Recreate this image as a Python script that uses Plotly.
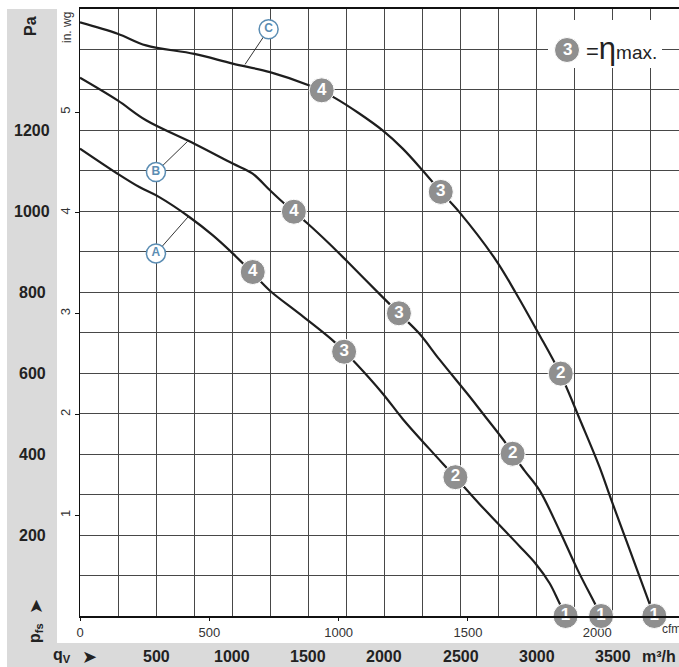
import plotly.graph_objects as go

# ---------------- data (m³/h, Pa) ----------------
Q_A = [0, 247, 390, 521, 718, 871, 1003, 1130, 1244, 1441, 1660, 1737, 1813, 1988, 2120, 2295, 2466, 2624, 2755, 2886, 2996, 3085, 3151, 3195]
P_A = [1155, 1093, 1060, 1035, 986, 941, 896, 849, 805, 747, 681, 653, 624, 550, 487, 413, 343, 277, 225, 173, 128, 81, 31, 0]

Q_B = [0, 247, 434, 751, 1003, 1134, 1248, 1331, 1408, 1495, 1638, 1748, 1988, 2098, 2229, 2361, 2558, 2645, 2799, 2842, 2919, 3018, 3149, 3269, 3390, 3423]
P_B = [1330, 1274, 1225, 1167, 1118, 1093, 1052, 1023, 998, 970, 920, 879, 788, 747, 698, 634, 543, 501, 426, 400, 360, 311, 212, 114, 25, 0]

Q_C = [0, 247, 434, 751, 1003, 1248, 1507, 1590, 1671, 1830, 1988, 2120, 2251, 2376, 2492, 2733, 2865, 3007, 3156, 3290, 3412, 3489, 3609, 3740, 3774]
P_C = [1467, 1439, 1410, 1389, 1365, 1344, 1311, 1297, 1281, 1243, 1200, 1155, 1101, 1046, 998, 879, 797, 702, 598, 480, 369, 288, 166, 32, 0]

# operating points 4,3,2,1 on each curve
op_labels = ["4", "3", "2", "1"]
opA_q = [1135, 1735, 2466, 3190]
opA_p = [850, 653, 343, 0]
opB_q = [1405, 2095, 2842, 3423]
opB_p = [999, 748, 401, 0]
opC_q = [1588, 2370, 3158, 3773]
opC_p = [1299, 1048, 599, 0]

# curve name labels and leader line ends
curve_names = ["A", "B", "C"]
name_q = [499, 499, 1239]
name_p = [896, 1097, 1450]
lead_q = [714, 707, 1084]
lead_p = [988, 1173, 1363]

# tick labels
q_ticks = [500, 1000, 1500, 2000, 2500, 3000, 3500]
pa_ticks = [200, 400, 600, 800, 1000, 1200]
cfm_ticks = [0, 500, 1000, 1500, 2000]
inwg_ticks = [1, 2, 3, 4, 5]

M3H_PER_CFM = 1.699
PA_PER_INWG = 249.089
X_MAX = 3935
Y_MAX = 1500

FONT = "Liberation Sans Narrow, Liberation Sans, Arial Narrow, sans-serif"
BAND = "#dadada"
GRID = "#474747"
CIRC = "#8f8f8f"
BLUE = "#5b8db3"

# layout geometry (pixels)
W, H = 679, 667
ML, MR, MT, MB = 80, 0, 9, 51
PW, PH = W - ML - MR, H - MT - MB


def px_x(px):
    return (px - ML) / PW


def px_y(py):
    return (H - MB - py) / PH


fig = go.Figure()

for Q, P in [(Q_A, P_A), (Q_B, P_B), (Q_C, P_C)]:
    fig.add_trace(go.Scatter(x=Q, y=P, mode="lines",
                             line=dict(color="#1e1e1e", width=2.2, shape="spline", smoothing=1.0),
                             hoverinfo="skip", showlegend=False))

# leader lines
for i in range(3):
    fig.add_trace(go.Scatter(x=[name_q[i], lead_q[i]], y=[name_p[i], lead_p[i]], mode="lines",
                             line=dict(color="#333333", width=1),
                             hoverinfo="skip", showlegend=False))

# curve name circles
fig.add_trace(go.Scatter(x=name_q, y=name_p, mode="markers+text", text=curve_names,
                         textposition="middle center",
                         textfont=dict(family=FONT, size=12, color=BLUE, weight="bold"),
                         marker=dict(size=19, color="white", line=dict(color=BLUE, width=1.5)),
                         hoverinfo="skip", showlegend=False))

# operating point circles
for oq, op in [(opA_q, opA_p), (opB_q, opB_p), (opC_q, opC_p)]:
    fig.add_trace(go.Scatter(x=oq, y=op, mode="markers+text", text=op_labels,
                             textposition="middle center", cliponaxis=False,
                             textfont=dict(family=FONT, size=17, color="white", weight="bold"),
                             marker=dict(size=25, color=CIRC, line=dict(color="white", width=1)),
                             hoverinfo="skip", showlegend=False))

# invisible trace for secondary axes
fig.add_trace(go.Scatter(x=[0], y=[0], xaxis="x2", yaxis="y2", mode="markers",
                         marker=dict(opacity=0), hoverinfo="skip", showlegend=False))

shapes = [
    dict(type="rect", xref="paper", yref="paper", x0=px_x(7), x1=px_x(57), y0=px_y(H), y1=px_y(9),
         fillcolor=BAND, line=dict(width=0), layer="below"),
    dict(type="rect", xref="paper", yref="paper", x0=px_x(7), x1=px_x(W), y0=px_y(H), y1=px_y(643),
         fillcolor=BAND, line=dict(width=0), layer="below"),
    # legend box
    dict(type="rect", xref="paper", yref="paper", x0=px_x(548), x1=px_x(662), y0=px_y(68), y1=px_y(20),
         fillcolor="white", line=dict(width=0), layer="above"),
    dict(type="circle", xref="paper", yref="paper", xsizemode="pixel", ysizemode="pixel",
         xanchor=px_x(567), yanchor=px_y(50), x0=-12.5, x1=12.5, y0=-12.5, y1=12.5,
         fillcolor=CIRC, line=dict(color="white", width=1), layer="above"),
]

ann = []
for v in pa_ticks:
    ann.append(dict(x=px_x(32), xref="paper", y=v, yref="y", text=str(v), showarrow=False,
                    xanchor="center", yanchor="middle",
                    font=dict(family=FONT, size=16, color="#222", weight="bold")))
for v in q_ticks:
    ann.append(dict(x=v, xref="x", y=px_y(656), yref="paper", text=str(v), showarrow=False,
                    xanchor="center", yanchor="middle",
                    font=dict(family=FONT, size=16, color="#222", weight="bold")))
ann += [
    dict(x=px_x(659), xref="paper", y=px_y(656), yref="paper", text="m³/h", showarrow=False,
         xanchor="center", yanchor="middle", font=dict(family=FONT, size=16, color="#222", weight="bold")),
    dict(x=px_x(31), xref="paper", y=px_y(26), yref="paper", text="Pa", showarrow=False, textangle=-90,
         xanchor="center", yanchor="middle", font=dict(family=FONT, size=16, color="#222", weight="bold")),
    dict(x=px_x(35), xref="paper", y=px_y(633), yref="paper", text="p<sub>fs</sub>", showarrow=False,
         textangle=-90, xanchor="center", yanchor="middle",
         font=dict(family=FONT, size=16, color="#222", weight="bold")),
    dict(x=px_x(35), xref="paper", y=px_y(607), yref="paper", text="➤", showarrow=False,
         textangle=-90, xanchor="center", yanchor="middle",
         font=dict(family="DejaVu Sans", size=18, color="#222")),
    dict(x=px_x(62), xref="paper", y=px_y(655), yref="paper", text="q<sub>V</sub>", showarrow=False,
         xanchor="center", yanchor="middle", font=dict(family=FONT, size=16, color="#222", weight="bold")),
    dict(x=px_x(89), xref="paper", y=px_y(656), yref="paper", text="➤", showarrow=False,
         xanchor="center", yanchor="middle", font=dict(family="DejaVu Sans", size=18, color="#222")),
    dict(x=px_x(67), xref="paper", y=px_y(28), yref="paper", text="in. wg", showarrow=False,
         textangle=-90, xanchor="center", yanchor="middle", font=dict(family=FONT, size=12, color="#333")),
    dict(x=px_x(671), xref="paper", y=px_y(629), yref="paper", text="cfm", showarrow=False,
         xanchor="center", yanchor="middle", font=dict(family=FONT, size=12, color="#333")),
    dict(x=px_x(567), xref="paper", y=px_y(50), yref="paper", text="3", showarrow=False,
         xanchor="center", yanchor="middle", font=dict(family=FONT, size=17, color="white", weight="bold")),
    dict(x=px_x(584), xref="paper", y=px_y(49), yref="paper",
         text="<span style='font-size:22px'>=</span><span style='font-size:31px'>η</span>max.", showarrow=False,
         xanchor="left", yanchor="middle", font=dict(family=FONT, size=19, color="#222")),
]

fig.update_layout(
    width=W, height=H,
    margin=dict(l=ML, r=MR, t=MT, b=MB),
    paper_bgcolor="white", plot_bgcolor="white",
    showlegend=False,
    font=dict(family=FONT, color="#222"),
    xaxis=dict(range=[0, X_MAX], tick0=0, dtick=250, showgrid=True, gridcolor=GRID, gridwidth=1,
               showticklabels=False, ticks="", showline=True, linecolor="#111", linewidth=1.5,
               mirror=True, zeroline=False, fixedrange=True),
    yaxis=dict(range=[0, Y_MAX], tick0=0, dtick=100, showgrid=True, gridcolor=GRID, gridwidth=1,
               showticklabels=False, ticks="", showline=True, linecolor="#111", linewidth=1.2,
               zeroline=False, fixedrange=True),
    xaxis2=dict(overlaying="x", anchor="y", side="bottom", range=[0, X_MAX / M3H_PER_CFM],
                tickmode="array", tickvals=cfm_ticks, ticktext=[str(v) for v in cfm_ticks],
                ticks="outside", ticklen=4, tickcolor="#111", showgrid=False, showline=False,
                zeroline=False, tickfont=dict(family=FONT, size=13, color="#333"),
                layer="below traces", fixedrange=True),
    yaxis2=dict(overlaying="y", anchor="x", side="left", range=[0, Y_MAX / PA_PER_INWG],
                tickmode="array", tickvals=inwg_ticks, ticktext=[str(v) for v in inwg_ticks],
                ticks="outside", ticklen=4, tickcolor="#111", tickangle=-90, showgrid=False,
                showline=False, zeroline=False, tickfont=dict(family=FONT, size=13, color="#333"),
                fixedrange=True),
    shapes=shapes,
    annotations=ann,
)

fig.write_html("out.html", config={"displayModeBar": False},
               post_script="document.body.style.margin='0';document.body.style.padding='0';"
                           "document.documentElement.style.overflow='hidden';")
